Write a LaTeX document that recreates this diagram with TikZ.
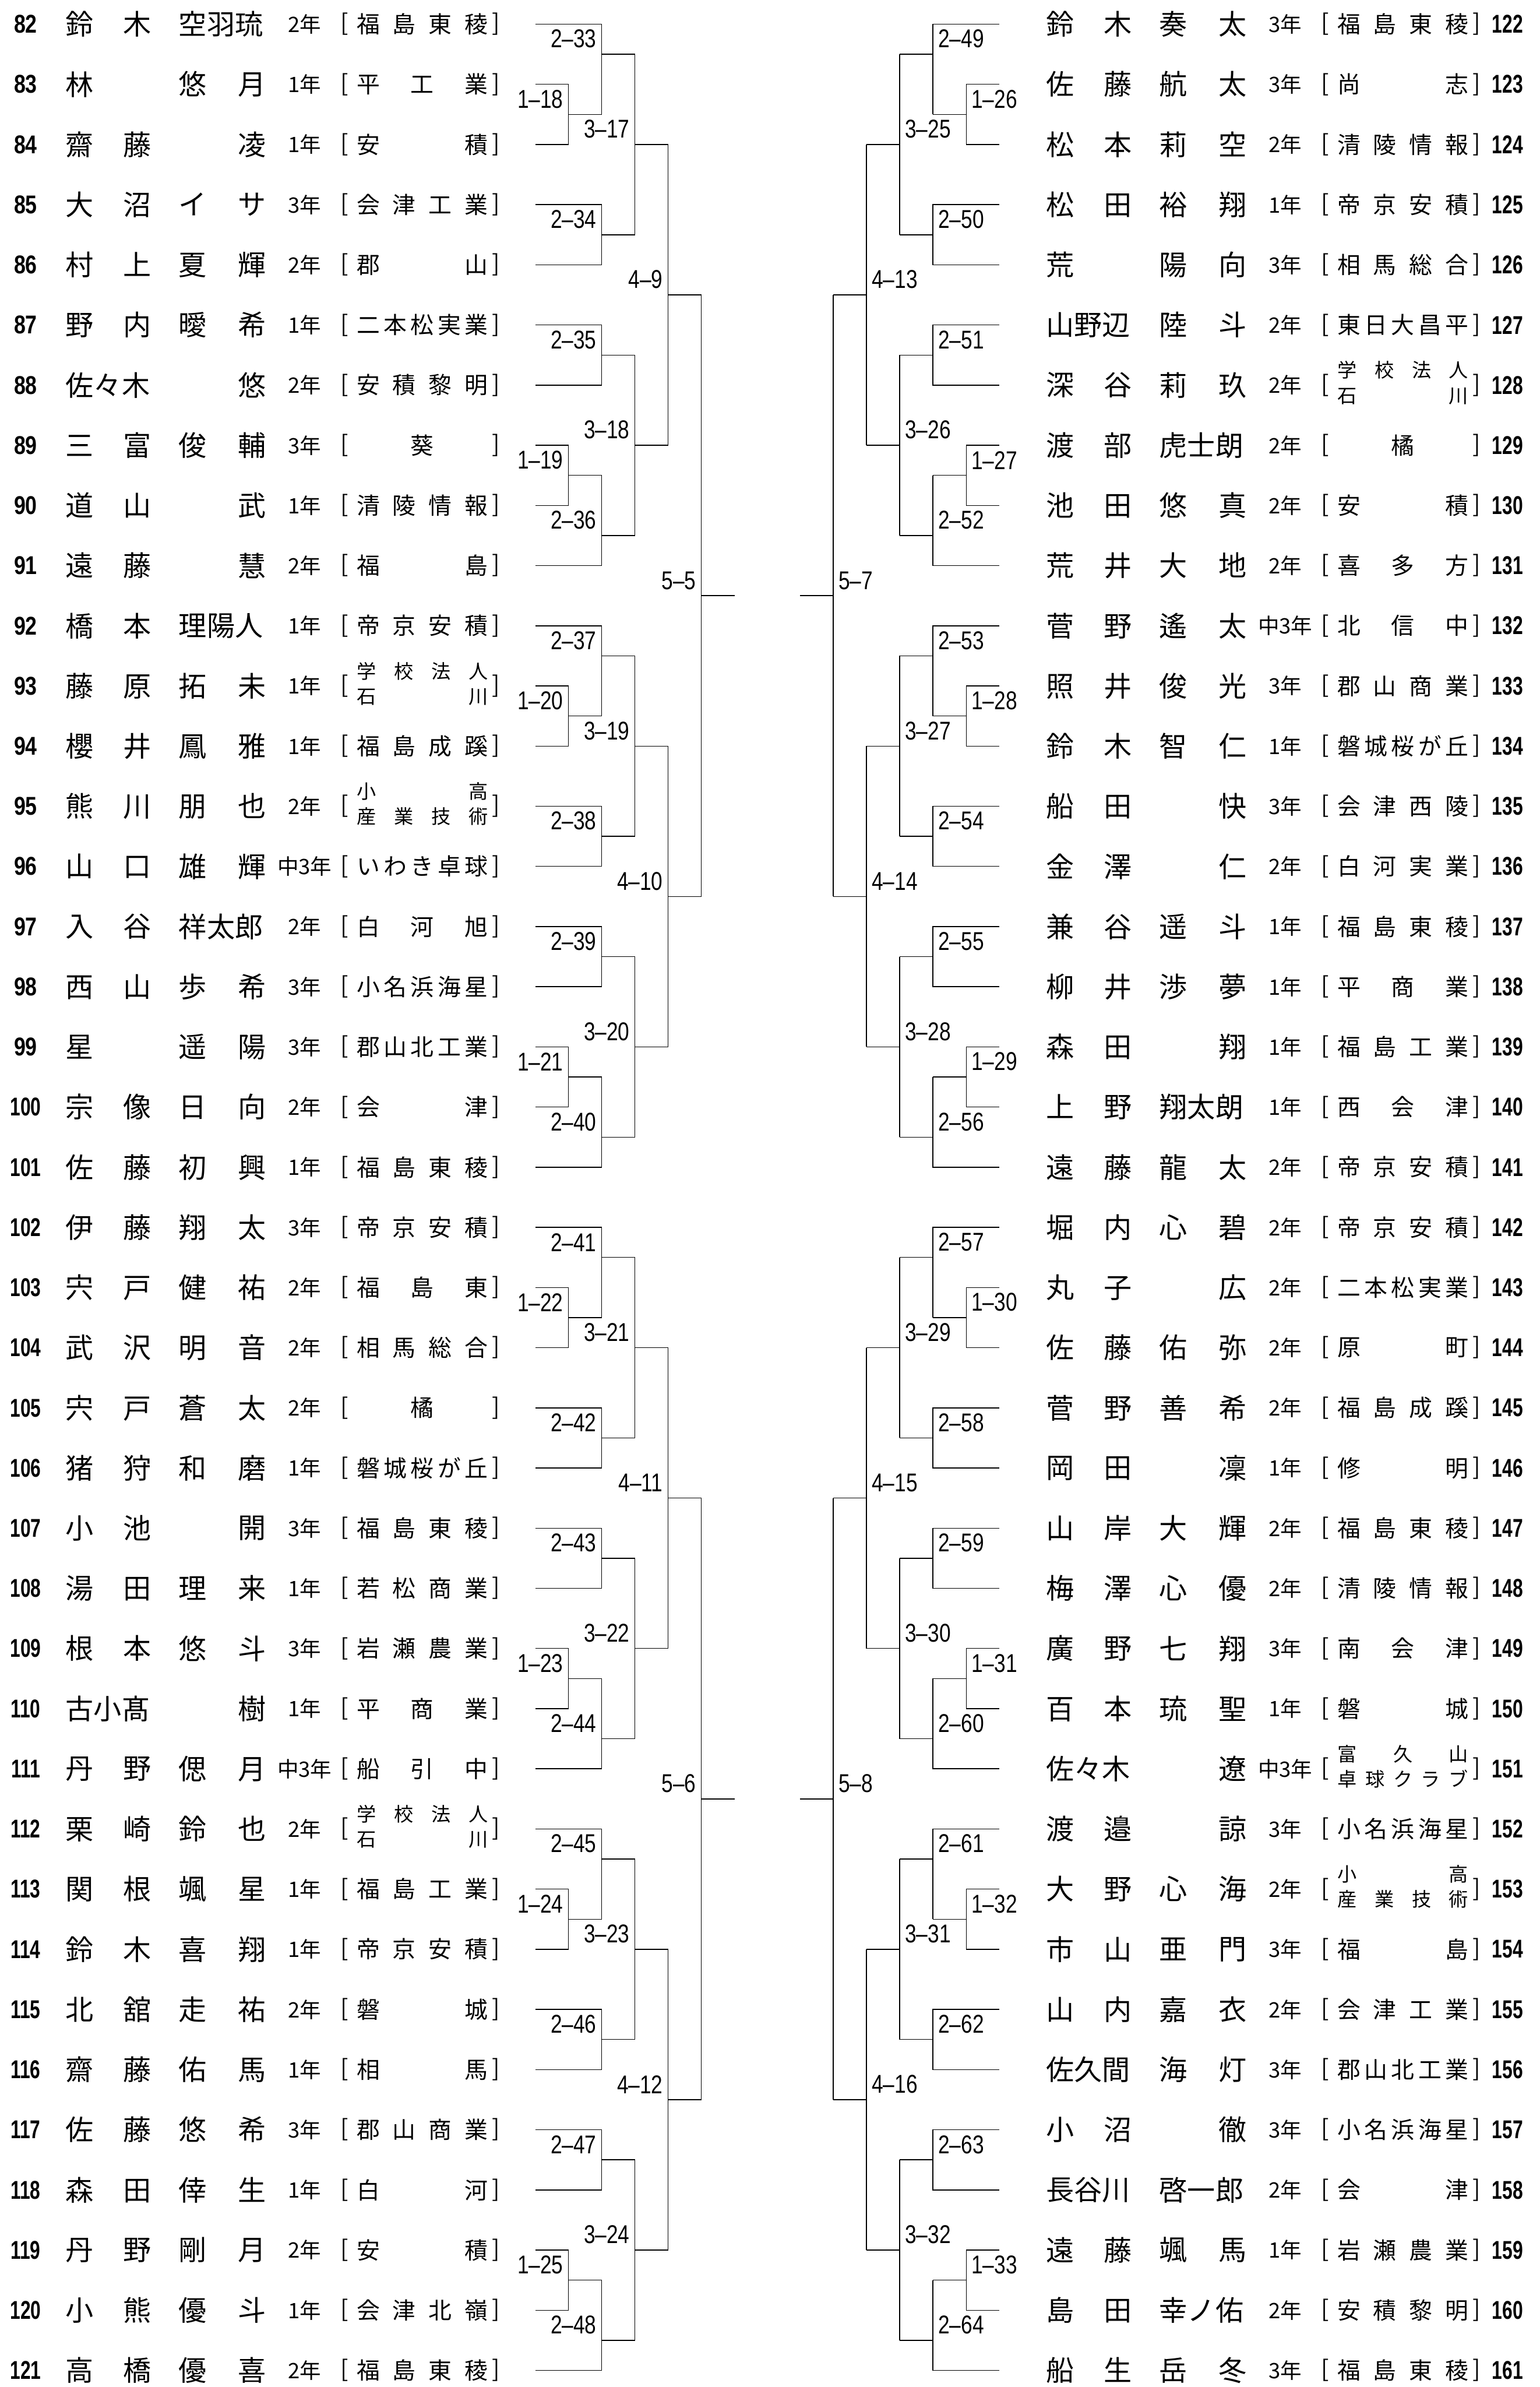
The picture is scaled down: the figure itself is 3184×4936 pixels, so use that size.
\documentclass[tikz,border=0pt]{standalone}
\usepackage{fontspec}
\usepackage{graphicx}
\setmainfont{Liberation Sans}
\newfontfamily\jp{Noto Sans CJK JP}
\usetikzlibrary{positioning}

% row position of the bracket lines
\pgfmathdeclarefunction{ry}{1}{\pgfmathparse{50+124.4*#1}}

\newcommand\pn[1]{\ifnum#1>99 \scalebox{0.72}[1]{#1}\else\scalebox{0.81}[1]{#1}\fi}
\newcommand\ml[1]{\scalebox{0.8}[1]{#1}}
\newcommand\one[1]{\makebox[67.75pt][s]{#1}}
\newcommand\two[2]{\fontsize{10}{13}\selectfont\begin{tabular}{@{}l@{}}\makebox[67.75pt][s]{#1}\\\makebox[67.75pt][s]{#2}\end{tabular}}

\tikzset{
  pnum/.style={font=\bfseries\fontsize{13.3}{14}\selectfont, inner sep=0pt},
  nm/.style={font=\jp\fontsize{14.5}{16}\selectfont, inner sep=0pt, anchor=west},
  grd/.style={font=\jp\fontsize{11}{12}\selectfont, inner sep=0pt},
  brk/.style={font=\jp\fontsize{12}{13}\selectfont, inner sep=0pt},
  sch/.style={font=\jp\fontsize{12}{13}\selectfont, inner sep=0pt, anchor=west},
  lbl/.style={font=\fontsize{13.3}{14}\selectfont, inner sep=0pt}
}

% one player row: x offset, number x, row, number, family, given, grade, school
\newcommand\prow[8]{%
  \pgfmathsetmacro\yy{50+124.4*#3}
  \node[pnum] (n#4) at (#2,\yy) {\pn{#4}};
  \node[nm] (f#4) at (135+#1,\yy) {\makebox[44.25pt][s]{#5}};
  \node[nm] (v#4) at (369+#1,\yy) {\makebox[45pt][s]{#6}};
  \node[grd] (g#4) at (630+#1,\yy) {#7};
  \node[brk] (bl#4) at (713+#1,\yy) {[};
  \node[sch] (s#4) at (737+#1,\yy) {#8};
  \node[brk] (br#4) at (1026+#1,\yy) {]};
}
\newcommand\lp[6]{\prow{0}{53}{#1}{#2}{#3}{#4}{#5}{#6}}
\newcommand\rp[6]{\prow{2028}{3118}{#1}{#2}{#3}{#4}{#5}{#6}}

% one block of ten rows: side, block, first numbers of rounds 1-4
\newcommand\blk[6]{%
  \pgfmathsetmacro\b{10*#2}
  \pgfmathsetmacro\xo{1587+#1*480}
  \pgfmathsetmacro\xa{1587+#1*411.3}
  \pgfmathsetmacro\xb{1587+#1*342.6}
  \pgfmathsetmacro\xc{1587+#1*273.9}
  \pgfmathsetmacro\xd{1587+#1*205.2}
  \pgfmathsetmacro\xe{1587+#1*136.5}
  \ifnum#1<0 \def\la{south east}\def\ld{-10}\else\def\la{south west}\def\ld{10}\fi
  \pgfmathtruncatemacro\ra{#3+2*#2}\pgfmathtruncatemacro\rb{#3+2*#2+1}
  \pgfmathtruncatemacro\sa{#4+4*#2}\pgfmathtruncatemacro\sb{#4+4*#2+1}
  \pgfmathtruncatemacro\sc{#4+4*#2+2}\pgfmathtruncatemacro\sd{#4+4*#2+3}
  \pgfmathtruncatemacro\ta{#5+2*#2}\pgfmathtruncatemacro\tb{#5+2*#2+1}
  \pgfmathtruncatemacro\ua{#6+#2}
  % first round
  \draw (\xo,{ry(\b+1)}) -- (\xa,{ry(\b+1)}) -- (\xa,{ry(\b+2)}) -- (\xo,{ry(\b+2)});
  \draw (\xa,{ry(\b+1.5)}) -- (\xb,{ry(\b+1.5)});
  \draw (\xo,{ry(\b+7)}) -- (\xa,{ry(\b+7)}) -- (\xa,{ry(\b+8)}) -- (\xo,{ry(\b+8)});
  \draw (\xa,{ry(\b+7.5)}) -- (\xb,{ry(\b+7.5)});
  \node[lbl, anchor=\la] (m1-\ra) at ({\xa+\ld},{ry(\b+1.5)-12}) {\ml{1\textendash\ra}};
  \node[lbl, anchor=\la] (m1-\rb) at ({\xa+\ld},{ry(\b+7.5)-12}) {\ml{1\textendash\rb}};
  % second round
  \draw (\xo,{ry(\b)}) -- (\xb,{ry(\b)}) -- (\xb,{ry(\b+1.5)});
  \draw (\xo,{ry(\b+3)}) -- (\xb,{ry(\b+3)}) -- (\xb,{ry(\b+4)}) -- (\xo,{ry(\b+4)});
  \draw (\xo,{ry(\b+5)}) -- (\xb,{ry(\b+5)}) -- (\xb,{ry(\b+6)}) -- (\xo,{ry(\b+6)});
  \draw (\xo,{ry(\b+9)}) -- (\xb,{ry(\b+9)}) -- (\xb,{ry(\b+7.5)});
  \foreach \r in {0.5,3.5,5.5,8.5}
    \draw (\xb,{ry(\b+\r)}) -- (\xc,{ry(\b+\r)});
  \node[lbl, anchor=\la] (m2-\sa) at ({\xb+\ld},{ry(\b+0.5)-12}) {\ml{2\textendash\sa}};
  \node[lbl, anchor=\la] (m2-\sb) at ({\xb+\ld},{ry(\b+3.5)-12}) {\ml{2\textendash\sb}};
  \node[lbl, anchor=\la] (m2-\sc) at ({\xb+\ld},{ry(\b+5.5)-12}) {\ml{2\textendash\sc}};
  \node[lbl, anchor=\la] (m2-\sd) at ({\xb+\ld},{ry(\b+8.5)-12}) {\ml{2\textendash\sd}};
  % third round
  \draw (\xc,{ry(\b+0.5)}) -- (\xc,{ry(\b+3.5)});
  \draw (\xc,{ry(\b+5.5)}) -- (\xc,{ry(\b+8.5)});
  \draw (\xc,{ry(\b+2)}) -- (\xd,{ry(\b+2)});
  \draw (\xc,{ry(\b+7)}) -- (\xd,{ry(\b+7)});
  \node[lbl, anchor=\la] (m3-\ta) at ({\xc+\ld},{ry(\b+2)-12}) {\ml{3\textendash\ta}};
  \node[lbl, anchor=\la] (m3-\tb) at ({\xc+\ld},{ry(\b+7)-12}) {\ml{3\textendash\tb}};
  % fourth round
  \draw (\xd,{ry(\b+2)}) -- (\xd,{ry(\b+7)});
  \draw (\xd,{ry(\b+4.5)}) -- (\xe,{ry(\b+4.5)});
  \node[lbl, anchor=\la] (m4-\ua) at ({\xd+\ld},{ry(\b+4.5)-12}) {\ml{4\textendash\ua}};
}

% fifth round over two blocks: side, first block, number
\newcommand\fin[3]{%
  \pgfmathsetmacro\b{10*#2}
  \pgfmathsetmacro\xe{1587+#1*136.5}
  \pgfmathsetmacro\xf{1587+#1*68}
  \ifnum#1<0 \def\la{south east}\def\ld{-10}\else\def\la{south west}\def\ld{10}\fi
  \draw (\xe,{ry(\b+4.5)}) -- (\xe,{ry(\b+14.5)});
  \draw (\xe,{ry(\b+9.5)}) -- (\xf,{ry(\b+9.5)});
  \node[lbl, anchor=\la] (m5-#3) at ({\xe+\ld},{ry(\b+9.5)-12}) {\ml{5\textendash#3}};
}

\begin{document}
\begin{tikzpicture}[x=0.25pt, y=-0.25pt, line width=0.45pt]
  \useasboundingbox (0,0) rectangle (3184,4936);

  % Left half
  \lp{0}{82}{鈴 木}{空羽琉}{2年}{\one{福 島 東 稜}}
  \lp{1}{83}{林}{悠 月}{1年}{\one{平 工 業}}
  \lp{2}{84}{齋 藤}{~凌}{1年}{\one{安 積}}
  \lp{3}{85}{大 沼}{イ サ}{3年}{\one{会 津 工 業}}
  \lp{4}{86}{村 上}{夏 輝}{2年}{\one{郡 山}}
  \lp{5}{87}{野 内}{曖 希}{1年}{\one{二 本 松 実 業}}
  \lp{6}{88}{佐々木}{~悠}{2年}{\one{安 積 黎 明}}
  \lp{7}{89}{三 富}{俊 輔}{3年}{\one{~葵~}}
  \lp{8}{90}{道 山}{~武}{1年}{\one{清 陵 情 報}}
  \lp{9}{91}{遠 藤}{~慧}{2年}{\one{福 島}}
  \lp{10}{92}{橋 本}{理陽人}{1年}{\one{帝 京 安 積}}
  \lp{11}{93}{藤 原}{拓 未}{1年}{\two{学 校 法 人}{石 川}}
  \lp{12}{94}{櫻 井}{鳳 雅}{1年}{\one{福 島 成 蹊}}
  \lp{13}{95}{熊 川}{朋 也}{2年}{\two{小 高}{産 業 技 術}}
  \lp{14}{96}{山 口}{雄 輝}{中3年}{\one{い わ き 卓 球}}
  \lp{15}{97}{入 谷}{祥太郎}{2年}{\one{白 河 旭}}
  \lp{16}{98}{西 山}{歩 希}{3年}{\one{小 名 浜 海 星}}
  \lp{17}{99}{星}{遥 陽}{3年}{\one{郡 山 北 工 業}}
  \lp{18}{100}{宗 像}{日 向}{2年}{\one{会 津}}
  \lp{19}{101}{佐 藤}{初 興}{1年}{\one{福 島 東 稜}}
  \lp{20}{102}{伊 藤}{翔 太}{3年}{\one{帝 京 安 積}}
  \lp{21}{103}{宍 戸}{健 祐}{2年}{\one{福 島 東}}
  \lp{22}{104}{武 沢}{明 音}{2年}{\one{相 馬 総 合}}
  \lp{23}{105}{宍 戸}{蒼 太}{2年}{\one{~橘~}}
  \lp{24}{106}{猪 狩}{和 磨}{1年}{\one{磐 城 桜 が 丘}}
  \lp{25}{107}{小 池}{~開}{3年}{\one{福 島 東 稜}}
  \lp{26}{108}{湯 田}{理 来}{1年}{\one{若 松 商 業}}
  \lp{27}{109}{根 本}{悠 斗}{3年}{\one{岩 瀬 農 業}}
  \lp{28}{110}{古小髙}{~樹}{1年}{\one{平 商 業}}
  \lp{29}{111}{丹 野}{偲 月}{中3年}{\one{船 引 中}}
  \lp{30}{112}{栗 崎}{鈴 也}{2年}{\two{学 校 法 人}{石 川}}
  \lp{31}{113}{関 根}{颯 星}{1年}{\one{福 島 工 業}}
  \lp{32}{114}{鈴 木}{喜 翔}{1年}{\one{帝 京 安 積}}
  \lp{33}{115}{北 舘}{走 祐}{2年}{\one{磐 城}}
  \lp{34}{116}{齋 藤}{佑 馬}{1年}{\one{相 馬}}
  \lp{35}{117}{佐 藤}{悠 希}{3年}{\one{郡 山 商 業}}
  \lp{36}{118}{森 田}{倖 生}{1年}{\one{白 河}}
  \lp{37}{119}{丹 野}{剛 月}{2年}{\one{安 積}}
  \lp{38}{120}{小 熊}{優 斗}{1年}{\one{会 津 北 嶺}}
  \lp{39}{121}{高 橋}{優 喜}{2年}{\one{福 島 東 稜}}

  % Right half
  \rp{0}{122}{鈴 木}{奏 太}{3年}{\one{福 島 東 稜}}
  \rp{1}{123}{佐 藤}{航 太}{3年}{\one{尚 志}}
  \rp{2}{124}{松 本}{莉 空}{2年}{\one{清 陵 情 報}}
  \rp{3}{125}{松 田}{裕 翔}{1年}{\one{帝 京 安 積}}
  \rp{4}{126}{荒}{陽 向}{3年}{\one{相 馬 総 合}}
  \rp{5}{127}{山野辺}{陸 斗}{2年}{\one{東 日 大 昌 平}}
  \rp{6}{128}{深 谷}{莉 玖}{2年}{\two{学 校 法 人}{石 川}}
  \rp{7}{129}{渡 部}{虎士朗}{2年}{\one{~橘~}}
  \rp{8}{130}{池 田}{悠 真}{2年}{\one{安 積}}
  \rp{9}{131}{荒 井}{大 地}{2年}{\one{喜 多 方}}
  \rp{10}{132}{菅 野}{遙 太}{中3年}{\one{北 信 中}}
  \rp{11}{133}{照 井}{俊 光}{3年}{\one{郡 山 商 業}}
  \rp{12}{134}{鈴 木}{智 仁}{1年}{\one{磐 城 桜 が 丘}}
  \rp{13}{135}{船 田}{~快}{3年}{\one{会 津 西 陵}}
  \rp{14}{136}{金 澤}{~仁}{2年}{\one{白 河 実 業}}
  \rp{15}{137}{兼 谷}{遥 斗}{1年}{\one{福 島 東 稜}}
  \rp{16}{138}{柳 井}{渉 夢}{1年}{\one{平 商 業}}
  \rp{17}{139}{森 田}{~翔}{1年}{\one{福 島 工 業}}
  \rp{18}{140}{上 野}{翔太朗}{1年}{\one{西 会 津}}
  \rp{19}{141}{遠 藤}{龍 太}{2年}{\one{帝 京 安 積}}
  \rp{20}{142}{堀 内}{心 碧}{2年}{\one{帝 京 安 積}}
  \rp{21}{143}{丸 子}{~広}{2年}{\one{二 本 松 実 業}}
  \rp{22}{144}{佐 藤}{佑 弥}{2年}{\one{原 町}}
  \rp{23}{145}{菅 野}{善 希}{2年}{\one{福 島 成 蹊}}
  \rp{24}{146}{岡 田}{~凜}{1年}{\one{修 明}}
  \rp{25}{147}{山 岸}{大 輝}{2年}{\one{福 島 東 稜}}
  \rp{26}{148}{梅 澤}{心 優}{2年}{\one{清 陵 情 報}}
  \rp{27}{149}{廣 野}{七 翔}{3年}{\one{南 会 津}}
  \rp{28}{150}{百 本}{琉 聖}{1年}{\one{磐 城}}
  \rp{29}{151}{佐々木}{~遼}{中3年}{\two{富 久 山}{卓 球 ク ラ ブ}}
  \rp{30}{152}{渡 邉}{~諒}{3年}{\one{小 名 浜 海 星}}
  \rp{31}{153}{大 野}{心 海}{2年}{\two{小 高}{産 業 技 術}}
  \rp{32}{154}{市 山}{亜 門}{3年}{\one{福 島}}
  \rp{33}{155}{山 内}{嘉 衣}{2年}{\one{会 津 工 業}}
  \rp{34}{156}{佐久間}{海 灯}{3年}{\one{郡 山 北 工 業}}
  \rp{35}{157}{小 沼}{~徹}{3年}{\one{小 名 浜 海 星}}
  \rp{36}{158}{長谷川}{啓一郎}{2年}{\one{会 津}}
  \rp{37}{159}{遠 藤}{颯 馬}{1年}{\one{岩 瀬 農 業}}
  \rp{38}{160}{島 田}{幸ノ佑}{2年}{\one{安 積 黎 明}}
  \rp{39}{161}{船 生}{岳 冬}{3年}{\one{福 島 東 稜}}

  % Brackets
  \foreach \k in {0,...,3} {
    \blk{-1}{\k}{18}{33}{17}{9}
    \blk{1}{\k}{26}{49}{25}{13}
  }
  \fin{-1}{0}{5}
  \fin{-1}{2}{6}
  \fin{1}{0}{7}
  \fin{1}{2}{8}
\end{tikzpicture}
\end{document}
